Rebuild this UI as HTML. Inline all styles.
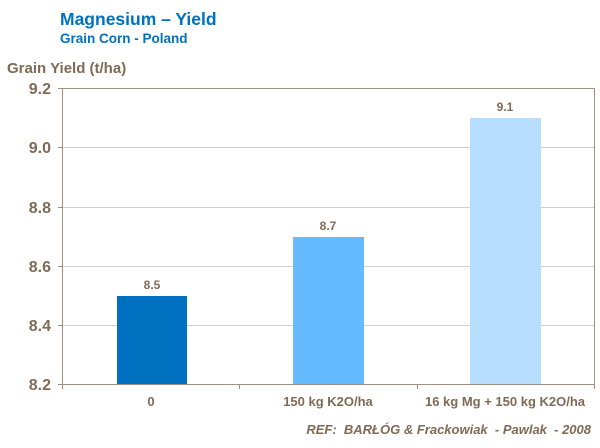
<!DOCTYPE html>
<html><head><style>
body{margin:0;width:600px;height:443px;background:#fff;overflow:hidden}
text{font-family:"Liberation Sans",Arial,sans-serif;font-weight:bold}
</style></head><body>
<svg width="600" height="443" xmlns="http://www.w3.org/2000/svg">
<text x="60" y="25" font-size="17.5" fill="#0070c0">Magnesium – Yield</text>
<text x="60" y="43" font-size="13.5" fill="#0070c0">Grain Corn - Poland</text>
<text x="7" y="73" font-size="15" fill="#7f6a55">Grain Yield (t/ha)</text>
<g stroke="#d0d0d0" stroke-width="1">
<line x1="62" y1="147.5" x2="594" y2="147.5"/>
<line x1="62" y1="207.5" x2="594" y2="207.5"/>
<line x1="62" y1="266.5" x2="594" y2="266.5"/>
<line x1="62" y1="325.5" x2="594" y2="325.5"/>
</g>
<g stroke="#a09080" stroke-width="1">
<line x1="62" y1="88.5" x2="594" y2="88.5"/>
<line x1="62.5" y1="88" x2="62.5" y2="389"/>
<line x1="594.5" y1="88" x2="594.5" y2="389"/>
<line x1="58" y1="384.5" x2="594" y2="384.5"/>
<line x1="58" y1="88.5" x2="62" y2="88.5"/>
<line x1="58" y1="147.5" x2="62" y2="147.5"/>
<line x1="58" y1="207.5" x2="62" y2="207.5"/>
<line x1="58" y1="266.5" x2="62" y2="266.5"/>
<line x1="58" y1="325.5" x2="62" y2="325.5"/>
<line x1="239.5" y1="384" x2="239.5" y2="389"/>
<line x1="417.5" y1="384" x2="417.5" y2="389"/>
</g>
<g font-size="16" fill="#7f6a55" text-anchor="end">
<text x="51" y="94">9.2</text>
<text x="51" y="153">9.0</text>
<text x="51" y="213">8.8</text>
<text x="51" y="272">8.6</text>
<text x="51" y="331">8.4</text>
<text x="51" y="390">8.2</text>
</g>
<rect x="117" y="296" width="70" height="88" fill="#0070c0"/>
<rect x="293" y="237" width="71" height="147" fill="#66bbff"/>
<rect x="470" y="118" width="71" height="266" fill="#b7deff"/>
<g font-size="12" fill="#7f6a55" text-anchor="middle">
<text x="152" y="289">8.5</text>
<text x="328" y="230">8.7</text>
<text x="505" y="111">9.1</text>
</g>
<g font-size="13" fill="#7f6a55" text-anchor="middle">
<text x="151" y="406">0</text>
<text x="328" y="406">150 kg K2O/ha</text>
<text x="505" y="406">16 kg Mg + 150 kg K2O/ha</text>
</g>
<text x="591" y="434" font-size="13" fill="#7f6a55" font-style="italic" text-anchor="end" xml:space="preserve" style="white-space:pre">REF:  BARŁÓG &amp; Frackowiak  - Pawlak  - 2008</text>
</svg>
</body></html>
